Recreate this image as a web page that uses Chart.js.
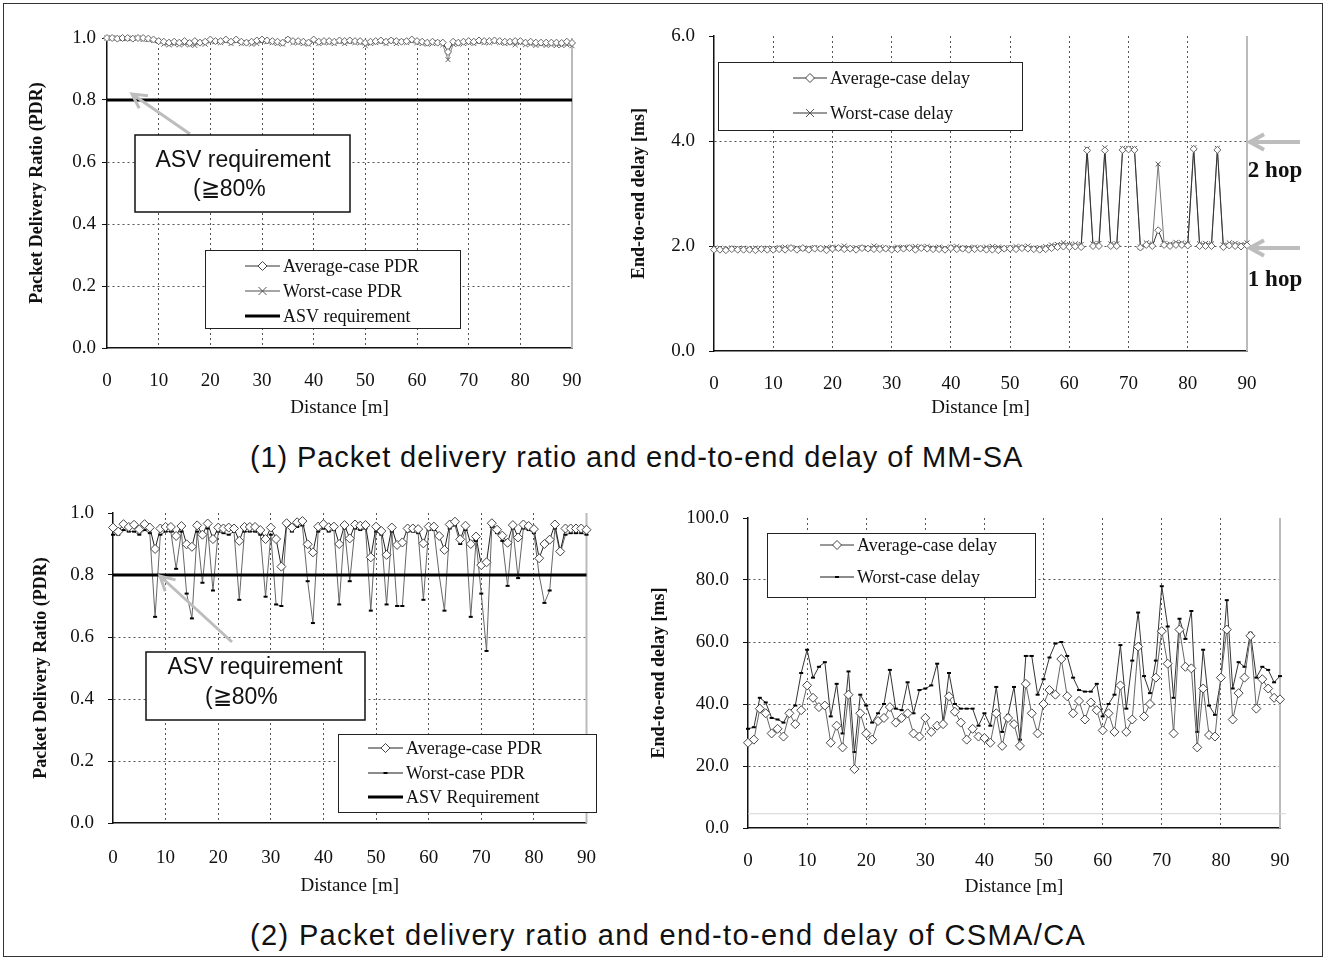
<!DOCTYPE html>
<html>
<head>
<meta charset="utf-8">
<script src="https://cdn.jsdelivr.net/npm/chart.js@4.4.1/dist/chart.umd.min.js"></script>
<style>
  body { margin: 0; background: #fff; width: 1327px; height: 961px; position: relative; overflow: hidden; }
  .frame { position: absolute; left: 3px; top: 3px; width: 1318px; height: 952px; border: 1px solid #333; }
  canvas { position: absolute; }
  .cap { position: absolute; left: 250px; font-family: "Liberation Sans", Arial, sans-serif; font-size: 29px; letter-spacing: 0.9px; color: #111; white-space: nowrap; }
</style>
</head>
<body>
<div class="frame"></div>
<canvas id="c1" width="620" height="430" style="left:0;top:0"></canvas>
<canvas id="c2" width="707" height="430" style="left:620px;top:0"></canvas>
<canvas id="c3" width="620" height="430" style="left:0;top:480px"></canvas>
<canvas id="c4" width="707" height="430" style="left:620px;top:480px"></canvas>
<div class="cap" style="top:441px">(1) Packet delivery ratio and end-to-end delay of MM-SA</div>
<div class="cap" style="top:919px;letter-spacing:1.35px">(2) Packet delivery ratio and end-to-end delay of CSMA/CA</div>
<script>
// distance [m]
const distance = [0,1,2,3,4,5,6,7,8,9,10,11,12,13,14,15,16,17,18,19,20,21,22,23,24,25,26,27,28,29,
  30,31,32,33,34,35,36,37,38,39,40,41,42,43,44,45,46,47,48,49,50,51,52,53,54,55,56,57,58,59,
  60,61,62,63,64,65,66,67,68,69,70,71,72,73,74,75,76,77,78,79,80,81,82,83,84,85,86,87,88,89,90];
const asvDist = [0, 90];
const asvLevel = [0.8, 0.8];

// (1) MM-SA
const mmAvgPdr = [1.0,1.0,0.998,1.0,1.0,0.998,1.0,1.0,0.998,0.995,
  0.99,0.988,0.985,0.988,0.985,0.99,0.984,0.99,0.985,0.988,
  0.995,0.99,0.99,0.995,0.988,0.995,0.988,0.985,0.988,0.992,
  0.995,0.992,0.99,0.988,0.985,0.995,0.99,0.99,0.988,0.985,
  0.995,0.988,0.99,0.99,0.988,0.992,0.99,0.992,0.99,0.99,
  0.985,0.988,0.99,0.992,0.988,0.992,0.99,0.988,0.99,0.995,
  0.99,0.988,0.985,0.988,0.985,0.985,0.955,0.988,0.985,0.988,
  0.99,0.988,0.992,0.99,0.99,0.992,0.99,0.988,0.988,0.99,
  0.99,0.985,0.988,0.985,0.985,0.985,0.985,0.985,0.984,0.988,0.984];
const mmWorstPdr = [1.0,1.0,1.0,0.998,0.998,1.0,1.0,0.995,0.995,0.992,
  0.99,0.98,0.978,0.98,0.978,0.98,0.978,0.976,0.985,0.98,
  0.99,0.988,0.985,0.99,0.982,0.99,0.982,0.985,0.98,0.982,
  0.99,0.988,0.985,0.982,0.98,0.995,0.985,0.985,0.982,0.98,
  0.99,0.982,0.985,0.985,0.982,0.988,0.982,0.988,0.985,0.985,
  0.975,0.982,0.985,0.988,0.982,0.99,0.982,0.988,0.985,0.99,
  0.985,0.982,0.98,0.982,0.985,0.978,0.93,0.98,0.98,0.982,
  0.985,0.982,0.988,0.985,0.985,0.988,0.985,0.982,0.985,0.978,
  0.985,0.978,0.98,0.976,0.98,0.976,0.978,0.976,0.976,0.978,0.975];
const mmAvgDelay = [1.93,1.93,1.92,1.94,1.93,1.93,1.93,1.92,1.94,1.93,
  1.93,1.94,1.93,1.96,1.93,1.96,1.93,1.95,1.95,1.92,
  1.95,1.96,1.94,1.95,1.93,1.96,1.95,1.94,1.94,1.95,
  1.93,1.94,1.95,1.96,1.93,1.96,1.95,1.94,1.94,1.93,
  1.96,1.94,1.95,1.93,1.94,1.95,1.93,1.93,1.92,1.95,
  1.95,1.94,1.96,1.95,1.94,1.93,1.94,1.96,1.98,1.99,
  1.98,1.99,1.98,3.82,2.0,2.0,3.82,2.0,2.0,3.83,
  3.84,3.83,1.97,2.02,2.0,2.3,2.02,2.0,2.02,2.02,
  2.01,3.85,2.0,2.0,2.0,3.83,1.98,2.01,2.0,1.99,2.01];
const mmWorstDelay = [1.95,1.96,1.94,1.96,1.95,1.96,1.94,1.96,1.95,1.96,
  1.94,1.97,1.98,1.97,1.96,1.95,1.96,1.97,1.95,1.97,
  1.98,1.96,2.0,1.96,1.97,1.97,1.96,2.0,1.98,1.96,
  1.96,1.98,1.97,1.98,1.99,1.98,1.99,1.96,1.98,1.96,
  1.98,1.99,1.96,1.97,1.98,1.96,1.98,1.99,1.98,1.96,
  1.97,1.99,1.98,2.0,1.96,1.97,1.99,2.02,2.03,2.06,
  2.03,2.04,2.03,3.85,2.04,2.05,3.87,2.04,2.04,3.86,
  3.86,3.86,1.98,2.06,2.04,3.56,2.05,2.04,2.07,2.06,
  2.04,3.87,2.04,2.05,2.04,3.86,2.02,2.06,2.05,2.03,2.06];

// (2) CSMA/CA
const csAvgPdr = [0.953,0.94,0.964,0.955,0.962,0.947,0.964,0.953,0.884,0.95,
  0.955,0.955,0.926,0.958,0.899,0.891,0.96,0.93,0.966,0.916,
  0.953,0.95,0.953,0.95,0.91,0.955,0.955,0.955,0.945,0.916,
  0.953,0.916,0.827,0.967,0.953,0.97,0.974,0.899,0.873,0.956,
  0.964,0.954,0.956,0.90,0.961,0.918,0.963,0.959,0.961,0.857,
  0.956,0.942,0.865,0.953,0.897,0.905,0.95,0.95,0.948,0.902,
  0.956,0.956,0.926,0.881,0.963,0.972,0.915,0.959,0.90,0.924,
  0.832,0.841,0.967,0.946,0.927,0.904,0.961,0.921,0.963,0.958,
  0.948,0.854,0.90,0.914,0.963,0.876,0.95,0.95,0.95,0.95,0.946];
const csWorstPdr = [0.93,0.93,0.945,0.94,0.94,0.93,0.945,0.935,0.665,0.93,
  0.94,0.94,0.82,0.94,0.74,0.66,0.94,0.775,0.95,0.75,
  0.94,0.935,0.93,0.94,0.72,0.94,0.94,0.94,0.93,0.73,
  0.93,0.705,0.70,0.96,0.94,0.955,0.96,0.78,0.645,0.94,
  0.95,0.94,0.945,0.705,0.95,0.78,0.95,0.945,0.95,0.685,
  0.94,0.93,0.705,0.94,0.70,0.70,0.94,0.94,0.935,0.72,
  0.945,0.945,0.80,0.685,0.95,0.96,0.90,0.945,0.665,0.91,
  0.74,0.555,0.955,0.935,0.91,0.765,0.95,0.79,0.95,0.945,
  0.935,0.80,0.71,0.75,0.95,0.87,0.93,0.935,0.935,0.935,0.93];
const csAvgDelay = [27.5,28.5,38.5,37,30.5,32,29.5,37,33.5,38,
  46,42,39,39.5,27.5,33,26,43,19,37,
  30.5,28.5,34.5,35.5,39,34,35.5,37,30.5,29.5,
  35.5,31,33,33.5,42.5,37.5,34,28.5,32,29.5,
  29,27.5,37,26.5,35.5,33.5,26.5,46.5,37,30.5,
  40,44.5,43,54.5,42.5,37,41,35,40.5,38,
  31.5,37,31,46,31,35,58.5,36,40,48.5,
  63.5,53,30.5,64,52,51.5,26,45,30,29.5,
  48.5,64,35,43.5,48.5,62,38.5,48,45,42,41.5];
const csWorstDelay = [32,32.5,42,40.5,35.5,35,34,37.5,39.5,50,
  57.5,48.5,52,53.5,36,46.5,30.5,50.5,24.5,43,
  39.5,34,37,40,51,38.5,38,47,37,44.5,
  45,46,53,34,50,40,38.5,38.5,38.5,33,
  37,33,45.5,31,36.5,45.5,28.5,55.5,55.5,43,
  48,55,59.5,60,55.5,48.5,44.5,44,44,46.5,
  36,40,43,59,38.5,54,69.5,49,43.5,54,
  78,65,42,67.5,61,70,31,57.5,39.5,36.5,
  48,73.5,45,53.5,52,63,48.5,52,51,47,49];

const serif = '"Liberation Serif", "Times New Roman", serif';
const sans = '"Liberation Sans", Arial, sans-serif';
const pts = (xs, ys) => xs.map((x, i) => ({x: x, y: ys[i]}));

function marker(ctx, kind, x, y) {
  ctx.save();
  ctx.lineWidth = 1;
  if (kind === 'diamond') {
    ctx.fillStyle = '#fff'; ctx.strokeStyle = '#444';
    ctx.beginPath(); ctx.moveTo(x, y - 4.5); ctx.lineTo(x + 4.5, y); ctx.lineTo(x, y + 4.5); ctx.lineTo(x - 4.5, y); ctx.closePath();
    ctx.fill(); ctx.stroke();
  } else if (kind === 'cross') {
    ctx.strokeStyle = '#555';
    ctx.beginPath(); ctx.moveTo(x - 4, y - 4); ctx.lineTo(x + 4, y + 4); ctx.moveTo(x + 4, y - 4); ctx.lineTo(x - 4, y + 4); ctx.stroke();
  } else if (kind === 'dash') {
    ctx.strokeStyle = '#000'; ctx.lineWidth = 2;
    ctx.beginPath(); ctx.moveTo(x - 2, y); ctx.lineTo(x + 2, y); ctx.stroke();
  }
  ctx.restore();
}

function grayArrow(ctx, x1, y1, x2, y2, w) {
  const a = Math.atan2(y2 - y1, x2 - x1), h = 16;
  ctx.save();
  ctx.strokeStyle = '#bdbdbd'; ctx.lineWidth = w; ctx.lineCap = 'butt';
  ctx.beginPath(); ctx.moveTo(x1, y1); ctx.lineTo(x2, y2);
  ctx.moveTo(x2 - h * Math.cos(a - 0.5), y2 - h * Math.sin(a - 0.5));
  ctx.lineTo(x2, y2);
  ctx.lineTo(x2 - h * Math.cos(a + 0.5), y2 - h * Math.sin(a + 0.5));
  ctx.stroke();
  ctx.restore();
}

const decor = {
  id: 'decor',
  beforeDatasetsDraw(chart, args, o) {
    const ctx = chart.ctx, a = chart.chartArea;
    ctx.save();
    ctx.strokeStyle = '#bbb'; ctx.lineWidth = 2;
    ctx.beginPath(); ctx.moveTo(a.right, a.top); ctx.lineTo(a.right, a.bottom); ctx.stroke();
    if (o.faint != null) {
      const y = chart.scales.y.getPixelForValue(o.faint);
      ctx.strokeStyle = '#d4d4d4'; ctx.lineWidth = 1;
      ctx.beginPath(); ctx.moveTo(a.left, y); ctx.lineTo(a.right + 6, y); ctx.stroke();
    }
    ctx.restore();
  },
  afterDraw(chart, args, o) {
    const ctx = chart.ctx;
    if (o.box) {
      const b = o.box;
      grayArrow(ctx, b.arrow[0], b.arrow[1], b.arrow[2], b.arrow[3], 3);
      ctx.save();
      ctx.fillStyle = '#fff'; ctx.fillRect(b.x, b.y, b.w, b.h);
      ctx.strokeStyle = '#111'; ctx.lineWidth = 1.5; ctx.strokeRect(b.x, b.y, b.w, b.h);
      ctx.fillStyle = '#111'; ctx.font = '23px ' + sans; ctx.textBaseline = 'middle';
      ctx.textAlign = 'center'; ctx.fillText('ASV requirement', b.t1[0], b.t1[1]);
      ctx.textAlign = 'left'; ctx.fillText('(\u226780%', b.t2[0], b.t2[1]);
      ctx.restore();
    }
    if (o.legend) {
      const L = o.legend;
      ctx.save();
      ctx.fillStyle = '#fff'; ctx.fillRect(L.x, L.y, L.w, L.h);
      ctx.strokeStyle = '#222'; ctx.lineWidth = 1; ctx.strokeRect(L.x + 0.5, L.y + 0.5, L.w, L.h);
      ctx.font = '18px ' + serif; ctx.textBaseline = 'middle'; ctx.textAlign = 'left';
      L.items.forEach(it => {
        ctx.strokeStyle = it.color; ctx.lineWidth = it.width;
        ctx.beginPath(); ctx.moveTo(L.sx, it.y); ctx.lineTo(L.sx + L.sw, it.y); ctx.stroke();
        if (it.point) marker(ctx, it.point, L.sx + L.sw / 2, it.y);
        ctx.fillStyle = '#111';
        ctx.fillText(it.label, L.sx + L.sw + 3, it.y + 1);
      });
      ctx.restore();
    }
    if (o.hops) {
      o.hops.forEach(h => {
        grayArrow(ctx, h.x + 50, h.ay, h.x, h.ay, 4);
        ctx.save();
        ctx.fillStyle = '#111'; ctx.font = 'bold 23px ' + serif;
        ctx.textAlign = 'center'; ctx.textBaseline = 'middle';
        ctx.fillText(h.text, h.tx, h.ty);
        ctx.restore();
      });
    }
  }
};

function lineChart(id, cfg) {
  const yMax = cfg.yMax;
  return new Chart(document.getElementById(id), {
    type: 'line',
    data: {datasets: cfg.datasets},
    options: {
      responsive: false,
      animation: false,
      events: [],
      layout: {padding: cfg.pad},
      plugins: {legend: {display: false}, tooltip: {enabled: false}, decor: cfg.decor},
      scales: {
        x: {
          type: 'linear', min: 0, max: 90,
          afterFit: s => { s.height = cfg.xH; },
          ticks: {stepSize: 10, padding: cfg.xTickPad, color: '#111', maxRotation: 0, font: {family: serif, size: 19}},
          grid: {drawTicks: false, lineWidth: 1, color: c => (c.tick && (c.tick.value === 0 || c.tick.value === 90)) ? 'rgba(0,0,0,0)' : '#555'},
          border: {color: '#111', width: 1.5, dash: [2, 3]},
          title: {display: true, text: 'Distance [m]', color: '#111', font: {family: serif, size: 19}, padding: {top: 0, bottom: cfg.xTitlePad}}
        },
        y: {
          min: 0, max: yMax,
          afterFit: s => { s.width = cfg.yW; },
          ticks: {stepSize: cfg.yStep, padding: cfg.yTickPad, color: '#111', font: {family: serif, size: 19}, callback: v => v.toFixed(1)},
          grid: {drawTicks: true, tickLength: 5, tickColor: '#111', lineWidth: 1,
                 color: c => (c.tick && (c.tick.value === 0 || c.tick.value === yMax)) ? 'rgba(0,0,0,0)' : '#555'},
          border: {color: '#111', width: 1.5, dash: [2, 3]},
          title: {display: true, text: cfg.yTitle, color: '#111', font: {family: serif, size: 18, weight: 'bold'}, padding: {top: cfg.yTitlePad, bottom: 0}}
        }
      }
    },
    plugins: [decor]
  });
}

const common = {fill: false, tension: 0, clip: false};

lineChart('c1', {
  pad: {left: 0, top: 38, right: 48, bottom: 0}, yW: 107, xH: 82, xTickPad: 22, xTitlePad: 11, yTitlePad: 27, yTickPad: 6,
  yMax: 1, yStep: 0.2, yTitle: 'Packet Delivery Ratio (PDR)',
  datasets: [
    Object.assign({label: 'ASV requirement', data: pts(asvDist, asvLevel), borderColor: '#000', borderWidth: 3, pointRadius: 0}, common),
    Object.assign({label: 'Average-case PDR', data: pts(distance, mmAvgPdr), borderColor: '#444', borderWidth: 1,
      pointStyle: 'rectRot', pointRadius: 3.5, pointBackgroundColor: '#fff', pointBorderColor: '#666', pointBorderWidth: 1}, common),
    Object.assign({label: 'Worst-case PDR', data: pts(distance, mmWorstPdr), borderColor: '#888', borderWidth: 1,
      pointStyle: 'crossRot', pointRadius: 3.5, pointBorderColor: '#666', pointBorderWidth: 1}, common)
  ],
  decor: {
    box: {x: 135, y: 135, w: 215, h: 77, t1: [243, 161], t2: [193, 190], arrow: [190, 134, 132, 94]},
    legend: {x: 205, y: 250, w: 255, h: 78, sx: 245, sw: 35, items: [
      {label: 'Average-case PDR', y: 266, color: '#333', width: 1, point: 'diamond'},
      {label: 'Worst-case PDR', y: 291, color: '#888', width: 1.5, point: 'cross'},
      {label: 'ASV requirement', y: 316, color: '#000', width: 3}
    ]}
  }
});

lineChart('c2', {
  pad: {left: 0, top: 36, right: 80, bottom: 0}, yW: 94, xH: 79, xTickPad: 22, xTitlePad: 11, yTitlePad: 9, yTickPad: 14,
  yMax: 6, yStep: 2, yTitle: 'End-to-end delay [ms]',
  datasets: [
    Object.assign({label: 'Average-case delay', data: pts(distance, mmAvgDelay), borderColor: '#333', borderWidth: 1,
      pointStyle: 'rectRot', pointRadius: 3.5, pointBackgroundColor: '#fff', pointBorderColor: '#666', pointBorderWidth: 1}, common),
    Object.assign({label: 'Worst-case delay', data: pts(distance, mmWorstDelay), borderColor: '#777', borderWidth: 1,
      pointStyle: 'crossRot', pointRadius: 3.5, pointBorderColor: '#555', pointBorderWidth: 1}, common)
  ],
  decor: {
    legend: {x: 98, y: 62, w: 304, h: 68, sx: 173, sw: 34, items: [
      {label: 'Average-case delay', y: 78, color: '#333', width: 1, point: 'diamond'},
      {label: 'Worst-case delay', y: 113, color: '#777', width: 1.5, point: 'cross'}
    ]},
    hops: [
      {text: '2 hop', x: 630, ay: 142, tx: 655, ty: 171},
      {text: '1 hop', x: 630, ay: 248, tx: 655, ty: 280}
    ]
  }
});

lineChart('c3', {
  pad: {left: 0, top: 33, right: 22, bottom: 0}, yW: 113, xH: 87, xTickPad: 24, xTitlePad: 13, yTitlePad: 31, yTickPad: 14,
  yMax: 1, yStep: 0.2, yTitle: 'Packet Delivery Ratio (PDR)',
  datasets: [
    Object.assign({label: 'ASV Requirement', data: pts(asvDist, asvLevel), borderColor: '#000', borderWidth: 3, pointRadius: 0}, common),
    Object.assign({label: 'Average-case PDR', data: pts(distance, csAvgPdr), borderColor: '#222', borderWidth: 1,
      pointStyle: 'rectRot', pointRadius: 4.5, pointBackgroundColor: '#fff', pointBorderColor: '#444', pointBorderWidth: 1}, common),
    Object.assign({label: 'Worst-case PDR', data: pts(distance, csWorstPdr), borderColor: '#666', borderWidth: 1,
      pointStyle: 'line', pointRadius: 2, pointBorderColor: '#000', pointBorderWidth: 2}, common)
  ],
  decor: {
    box: {x: 146, y: 172, w: 219, h: 68, t1: [255, 188], t2: [205, 218], arrow: [232, 162, 160, 96]},
    legend: {x: 338, y: 254, w: 258, h: 78, sx: 368, sw: 35, items: [
      {label: 'Average-case PDR', y: 268, color: '#222', width: 1, point: 'diamond'},
      {label: 'Worst-case PDR', y: 293, color: '#666', width: 1.5, point: 'dash'},
      {label: 'ASV Requirement', y: 317, color: '#000', width: 3}
    ]}
  }
});

lineChart('c4', {
  pad: {left: 0, top: 38, right: 47, bottom: 0}, yW: 128, xH: 82, xTickPad: 22, xTitlePad: 12, yTitlePad: 29, yTickPad: 14,
  yMax: 100, yStep: 20, yTitle: 'End-to-end delay [ms]',
  datasets: [
    Object.assign({label: 'Average-case delay', data: pts(distance, csAvgDelay), borderColor: '#666', borderWidth: 1,
      pointStyle: 'rectRot', pointRadius: 4.5, pointBackgroundColor: '#fff', pointBorderColor: '#444', pointBorderWidth: 1}, common),
    Object.assign({label: 'Worst-case delay', data: pts(distance, csWorstDelay), borderColor: '#333', borderWidth: 1,
      pointStyle: 'line', pointRadius: 2, pointBorderColor: '#000', pointBorderWidth: 2}, common)
  ],
  decor: {
    faint: 4.6,
    legend: {x: 147, y: 53, w: 268, h: 64, sx: 200, sw: 34, items: [
      {label: 'Average-case delay', y: 65, color: '#333', width: 1, point: 'diamond'},
      {label: 'Worst-case delay', y: 97, color: '#666', width: 1.5, point: 'dash'}
    ]}
  }
});
</script>
</body>
</html>
